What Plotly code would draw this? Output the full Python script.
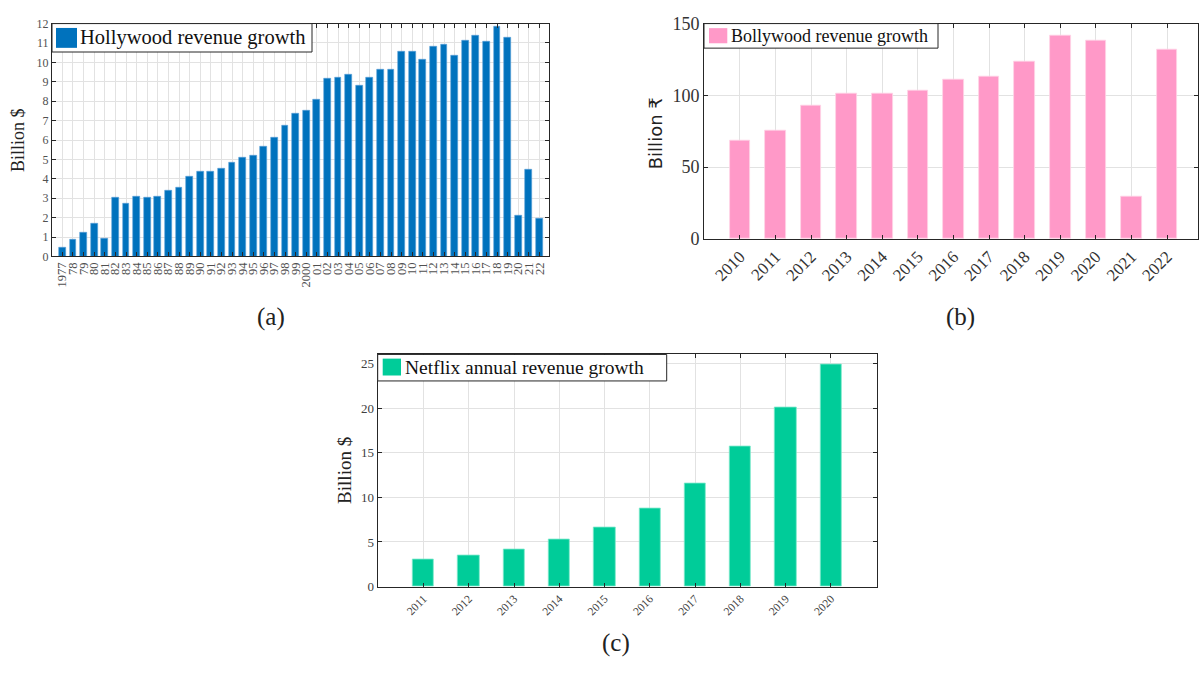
import plotly.graph_objects as go

# ---------------- data ----------------
hollywood_years = ["1977", "78", "79", "80", "81", "82", "83", "84", "85", "86", "87", "88", "89",
                   "90", "91", "92", "93", "94", "95", "96", "97", "98", "99", "2000", "01", "02",
                   "03", "04", "05", "06", "07", "08", "09", "10", "11", "12", "13", "14", "15",
                   "16", "17", "18", "19", "20", "21", "22"]
hollywood_revenue = [0.45, 0.85, 1.25, 1.67, 0.92, 3.02, 2.75, 3.1, 3.05, 3.1, 3.4, 3.55, 4.1,
                     4.35, 4.35, 4.55, 4.85, 5.1, 5.2, 5.65, 6.15, 6.73, 7.37, 7.5, 8.1, 9.15,
                     9.2, 9.35, 8.83, 9.2, 9.63, 9.62, 10.58, 10.55, 10.15, 10.8, 10.92, 10.35,
                     11.1, 11.37, 11.05, 11.87, 11.3, 2.12, 4.5, 1.93]

bollywood_years = ["2010", "2011", "2012", "2013", "2014", "2015", "2016", "2017", "2018",
                   "2019", "2020", "2021", "2022"]
bollywood_revenue = [68.3, 75.5, 92.8, 101.5, 101.0, 103.4, 111.3, 113.3, 123.3, 141.3,
                     138.0, 29.4, 132.2]

netflix_years = ["2011", "2012", "2013", "2014", "2015", "2016", "2017", "2018", "2019", "2020"]
netflix_revenue = [3.0, 3.44, 4.2, 5.33, 6.63, 8.77, 11.56, 15.65, 20.07, 24.86]

hollywood_y_ticks = list(range(0, 13))
bollywood_y_ticks = [0, 50, 100, 150]
netflix_y_ticks = [0, 5, 10, 15, 20, 25]

# ---------------- style ----------------
W, H = 1203, 673
SERIF = "Liberation Serif, DejaVu Serif, serif"
SANS = "DejaVu Sans, Liberation Sans, sans-serif"
AX = "#262626"
GRID = "#e2e2e2"
BLUE = "#0072BD"
PINK = "#FF99C8"
GREEN = "#00CC99"


def px(x):
    return x / W


def py(y):
    return 1 - y / H


fig = go.Figure()
fig.add_trace(go.Bar(x=hollywood_years, y=hollywood_revenue, xaxis="x", yaxis="y",
                     marker=dict(color=BLUE, line=dict(color="#5aa0d8", width=0.6)),
                     width=0.64, showlegend=False))
fig.add_trace(go.Bar(x=bollywood_years, y=bollywood_revenue, xaxis="x2", yaxis="y2",
                     marker=dict(color=PINK, line=dict(color="#ffd3e6", width=0.8)),
                     width=0.58, showlegend=False))
fig.add_trace(go.Bar(x=netflix_years, y=netflix_revenue, xaxis="x3", yaxis="y3",
                     marker=dict(color=GREEN, line=dict(color="#7fe8cc", width=0.8)),
                     width=0.47, showlegend=False))


def xax(domain, anchor, rng, cats, angle, size, color):
    return dict(domain=domain, anchor=anchor, type="category", range=rng,
                tickmode="array", tickvals=cats, ticktext=cats,
                showgrid=True, gridcolor=GRID, gridwidth=1,
                showline=True, linecolor=AX, linewidth=1, mirror="ticks",
                ticks="inside", ticklen=4, tickcolor=AX, tickwidth=1,
                tickangle=angle, tickfont=dict(family=SERIF, size=size, color=color),
                zeroline=False, fixedrange=True)


def yax(domain, anchor, rng, tickvals, size, color):
    return dict(domain=domain, anchor=anchor, range=rng, tickvals=tickvals,
                showgrid=True, gridcolor=GRID, gridwidth=1,
                showline=True, linecolor=AX, linewidth=1, mirror="ticks",
                ticks="inside", ticklen=4, tickcolor=AX, tickwidth=1,
                tickfont=dict(family=SERIF, size=size, color=color),
                zeroline=False, fixedrange=True)


layout = dict(
    width=W, height=H, margin=dict(l=0, r=0, t=0, b=0), autosize=False,
    paper_bgcolor="white", plot_bgcolor="white", bargap=0,
    xaxis=xax([px(52), px(549)], "y", [-0.98, 45.9], hollywood_years, -90, 12.5, "#505050"),
    yaxis=yax([py(254), py(14)], "x", [0, 12], hollywood_y_ticks, 12, "#505050"),
    xaxis2=xax([px(704), px(1198)], "y2", [-1.01, 12.87], bollywood_years, -45, 17, "#333333"),
    yaxis2=yax([py(236), py(14)], "x2", [0, 150], bollywood_y_ticks, 18, "#333333"),
    xaxis3=xax([px(377.7), px(876.7)], "y3", [-1.01, 10.01], netflix_years, -45, 11.5, "#404040"),
    yaxis3=yax([py(594.3), py(355)], "x3", [0, 26], netflix_y_ticks, 13, "#404040"),
)
fig.update_layout(**layout)

shapes = []
annotations = []


def legend(box, swatch, color, text, tx, size):
    x0, y0, x1, y1 = box
    shapes.append(dict(type="rect", xref="paper", yref="paper", x0=px(x0), x1=px(x1),
                       y0=py(y1), y1=py(y0), fillcolor="white",
                       line=dict(color=AX, width=1), layer="above"))
    sx0, sy0, sx1, sy1 = swatch
    shapes.append(dict(type="rect", xref="paper", yref="paper", x0=px(sx0), x1=px(sx1),
                       y0=py(sy1), y1=py(sy0), fillcolor=color, line=dict(width=0),
                       layer="above"))
    annotations.append(dict(xref="paper", yref="paper", x=px(tx), y=py((y0 + y1) / 2),
                            xanchor="left", yanchor="middle", showarrow=False, text=text,
                            font=dict(family=SERIF, size=size, color="#111111")))


legend((52, 14, 312, 43.3), (56, 18.5, 77, 39), BLUE, "Hollywood revenue growth", 77.5, 20.5)
legend((704, 14, 938, 39.3), (709, 18.7, 727.3, 34.3), PINK, "Bollywood revenue growth", 729, 18)
legend((377.7, 355, 666.7, 382.3), (382.7, 359.3, 401, 376.7), GREEN,
       "Netflix annual revenue growth", 402.5, 19.5)


def label(x, y, text, family, size, angle=0):
    annotations.append(dict(xref="paper", yref="paper", x=px(x), y=py(y), xanchor="center",
                            yanchor="middle", showarrow=False, text=text, textangle=angle,
                            font=dict(family=family, size=size, color="#222222")))


label(18, 134, "Billion $", SERIF, 18, -90)
label(655, 127, "Billion ₹", SANS, 18, -90)
label(345, 475, "Billion $", SERIF, 19, -90)
label(271, 316, "(a)", SERIF, 25)
label(961, 316, "(b)", SERIF, 25)
label(616, 652, "(c)", SERIF, 25)

fig.update_layout(shapes=shapes, annotations=annotations)
fig.write_html(
    "out.html",
    config={"displayModeBar": False, "responsive": False},
    post_script=(
        "document.documentElement.style.margin='0';"
        "document.documentElement.style.overflow='hidden';"
        "document.body.style.margin='0';"
        "document.body.style.padding='0';"
        "document.body.style.overflow='hidden';"
        "var d=document.getElementById('{plot_id}');"
        "d.style.position='fixed';d.style.left='0px';d.style.top='0px';"
    ),
)
